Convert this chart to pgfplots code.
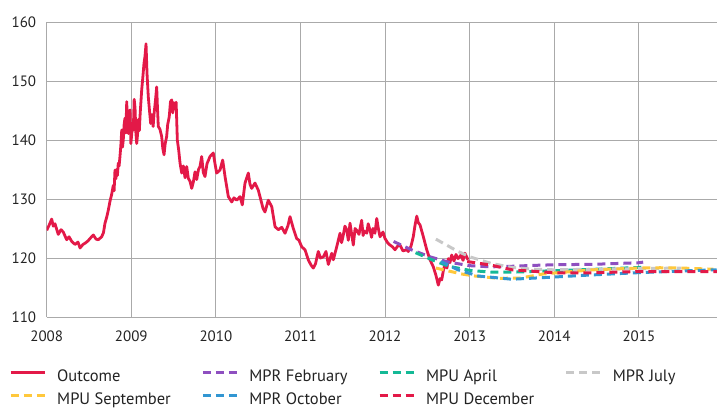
\documentclass[border=0pt]{standalone}
\usepackage{fontspec}
\setmainfont{PT Sans}
\usepackage{pgfplots}
\pgfplotsset{compat=1.18}

\definecolor{outred}{RGB}{227,25,72}
\definecolor{febpurple}{RGB}{142,79,192}
\definecolor{aprteal}{RGB}{20,185,150}
\definecolor{julgray}{RGB}{200,200,200}
\definecolor{sepyellow}{RGB}{255,200,60}
\definecolor{octblue}{RGB}{50,150,210}
\definecolor{gridc}{RGB}{170,170,170}
\definecolor{textc}{RGB}{35,35,35}

\pgfplotsset{
  fcst/.style={line width=3pt, dash pattern=on 8pt off 5pt},
}

\begin{document}
\begin{tikzpicture}
\begin{axis}[
  scale only axis, width=670.3pt, height=295pt,
  xmin=2008, xmax=2015.923, ymin=110, ymax=160,
  xtick={2008,2009,...,2015}, ytick={110,120,...,160},
  /pgf/number format/1000 sep={},
  /pgf/number format/assume math mode=true,
  grid=major, major grid style={draw=gridc, line width=1pt},
  axis line style={draw=none},
  major tick length=0pt,
  tick label style={font=\fontsize{15}{18}\selectfont, text=textc},
  yticklabel style={xshift=-7pt},
  xticklabel style={yshift=-10pt},
  legend columns=4,
  legend image code/.code={\draw[#1] (0pt,5pt) -- (34pt,5pt);},
  legend style={at={(0,0)}, anchor=north west, xshift=-37.7pt, yshift=-52.5pt,
    draw=none, fill=none, inner sep=0pt, row sep=8pt,
    font=\fontsize{16.5}{19}\selectfont, text=textc,
    nodes={inner sep=0pt, text height=11.5pt, text depth=3.5pt},
    /tikz/every odd column/.append style={column sep=11pt},
    /tikz/every even column/.append style={column sep=30.5pt}},
  legend cell align=left,
]
% Outcome
\addplot[outred, line width=2.8pt, line join=round] coordinates {
(2008.000,124.7) (2008.027,125.5) (2008.059,126.6) (2008.078,125.4) (2008.098,125.8)
(2008.137,124.0) (2008.169,124.8) (2008.196,124.4) (2008.236,123.1) (2008.264,123.6)
(2008.296,122.8) (2008.335,122.3) (2008.370,122.7) (2008.394,121.7) (2008.429,122.3)
(2008.453,122.5) (2008.488,122.9) (2008.512,123.3) (2008.551,123.9) (2008.583,123.2)
(2008.610,123.1) (2008.650,123.6) (2008.671,124.3) (2008.689,125.9) (2008.709,126.9)
(2008.728,128.1) (2008.748,129.6) (2008.768,130.8) (2008.787,132.3) (2008.797,131.4)
(2008.807,134.9) (2008.817,133.4) (2008.827,135.0) (2008.836,134.0) (2008.846,136.1)
(2008.856,135.6) (2008.866,137.2) (2008.876,139.0) (2008.887,141.7) (2008.896,138.8)
(2008.905,140.0) (2008.915,142.6) (2008.925,143.7) (2008.935,141.2) (2008.946,146.5)
(2008.955,142.0) (2008.965,141.1) (2008.975,143.6) (2008.985,145.1) (2008.995,139.4)
(2009.005,141.0) (2009.015,142.9) (2009.024,141.7) (2009.034,146.9) (2009.044,145.5)
(2009.054,141.3) (2009.064,139.4) (2009.074,141.0) (2009.085,143.5) (2009.095,141.6)
(2009.105,144.5) (2009.123,148.5) (2009.135,150.4) (2009.150,153.0) (2009.162,154.2)
(2009.174,156.3) (2009.186,151.2) (2009.201,147.3) (2009.215,145.0) (2009.229,142.8)
(2009.243,144.3) (2009.258,142.3) (2009.270,144.6) (2009.285,146.6) (2009.300,149.0)
(2009.310,145.2) (2009.319,142.3) (2009.339,141.8) (2009.359,140.6) (2009.372,138.6)
(2009.387,137.5) (2009.400,139.3) (2009.418,140.6) (2009.430,142.6) (2009.449,144.0)
(2009.463,146.5) (2009.478,146.8) (2009.490,144.6) (2009.505,146.3) (2009.517,145.9)
(2009.530,146.4) (2009.544,140.0) (2009.560,138.3) (2009.576,136.1) (2009.596,134.4)
(2009.615,135.6) (2009.635,133.6) (2009.655,135.5) (2009.674,133.5) (2009.694,133.0)
(2009.714,131.8) (2009.735,133.0) (2009.753,134.6) (2009.773,133.3) (2009.794,135.0)
(2009.812,135.5) (2009.832,137.2) (2009.851,134.5) (2009.871,133.8) (2009.895,136.0)
(2009.910,136.5) (2009.930,137.2) (2009.969,137.8) (2009.989,136.0) (2010.009,134.4)
(2010.048,134.9) (2010.080,136.6) (2010.108,133.8) (2010.147,130.4) (2010.187,129.5)
(2010.214,130.2) (2010.246,129.8) (2010.285,130.4) (2010.312,129.0) (2010.344,132.7)
(2010.383,134.4) (2010.403,132.5) (2010.423,131.8) (2010.462,132.7) (2010.501,131.5)
(2010.541,129.3) (2010.557,128.4) (2010.580,127.8) (2010.619,129.8) (2010.660,128.7)
(2010.699,125.3) (2010.738,124.8) (2010.778,125.2) (2010.817,124.2) (2010.852,125.5)
(2010.876,127.0) (2010.915,125.0) (2010.955,123.3) (2010.982,123.0) (2011.014,121.9)
(2011.053,121.4) (2011.092,119.7) (2011.124,118.8) (2011.151,118.3) (2011.177,119.0)
(2011.210,121.1) (2011.236,120.0) (2011.270,120.2) (2011.301,121.1) (2011.329,118.9)
(2011.369,120.8) (2011.388,119.7) (2011.428,121.9) (2011.467,124.2) (2011.485,122.6)
(2011.502,123.6) (2011.525,125.4) (2011.546,124.8) (2011.565,123.0) (2011.585,125.9)
(2011.605,124.0) (2011.624,122.2) (2011.645,125.0) (2011.664,124.7) (2011.691,124.0)
(2011.723,126.4) (2011.740,123.8) (2011.751,124.6) (2011.783,124.2) (2011.800,125.8)
(2011.822,124.7) (2011.840,123.5) (2011.857,125.0) (2011.880,124.2) (2011.901,126.7)
(2011.920,125.0) (2011.940,123.6) (2011.975,124.4) (2011.999,123.3) (2012.034,122.5)
(2012.058,122.2) (2012.087,121.9) (2012.117,121.4) (2012.147,122.0) (2012.176,122.2)
(2012.211,121.2) (2012.255,121.4) (2012.274,121.1) (2012.306,122.0) (2012.333,123.6)
(2012.353,125.5) (2012.374,127.1) (2012.392,126.0) (2012.413,125.6) (2012.452,123.6)
(2012.492,121.4) (2012.531,119.7) (2012.570,118.5) (2012.602,117.0) (2012.629,115.4)
(2012.649,116.5) (2012.669,116.3) (2012.690,118.0) (2012.708,119.0) (2012.731,118.3)
(2012.747,119.9) (2012.766,119.2) (2012.787,120.5) (2012.814,119.5) (2012.838,120.6)
(2012.862,119.9) (2012.897,120.5) (2012.921,119.6) (2012.944,120.8) (2012.980,119.7)
};
\addlegendentry{Outcome}
% MPR February
\addplot[febpurple, fcst] coordinates {
(2012.10,122.8) (2012.31,121.4) (2012.53,120.2) (2012.75,119.3) (2013.00,118.7)
(2013.25,118.5) (2013.50,118.6) (2013.75,118.75) (2014.00,118.85) (2014.50,118.95)
(2015.00,119.2) (2015.05,119.3)
};
\addlegendentry{MPR February}
% MPU April
\addplot[aprteal, fcst] coordinates {
(2012.36,120.9) (2012.57,119.6) (2012.75,118.6) (2013.00,117.9) (2013.25,117.6)
(2013.50,117.6) (2014.00,117.85) (2014.50,118.1) (2015.00,118.4) (2015.05,118.45)
};
\addlegendentry{MPU April}
% MPR July
\addplot[julgray, fcst] coordinates {
(2012.60,123.2) (2012.85,121.2) (2013.00,120.2) (2013.25,119.1) (2013.50,118.4)
(2013.75,118.1) (2014.00,118.0) (2014.50,118.1) (2015.00,118.2) (2015.50,118.3)
};
\addlegendentry{MPR July}
% MPU September
\addplot[sepyellow, fcst] coordinates {
(2012.60,118.3) (2012.90,117.3) (2013.06,116.95) (2013.34,116.55) (2013.60,116.6)
(2013.87,117.3) (2014.46,118.0) (2015.00,118.3) (2015.25,118.35) (2015.50,118.3)
(2015.88,118.1)
};
\addlegendentry{MPU September}
% MPR October
\addplot[octblue, fcst] coordinates {
(2012.66,119.4) (2012.86,118.0) (2013.10,116.95) (2013.50,116.4) (2013.90,116.7)
(2014.40,117.1) (2014.97,117.5) (2015.50,117.8) (2015.92,118.0)
};
\addlegendentry{MPR October}
% MPU December
\addplot[outred, fcst] coordinates {
(2012.97,119.4) (2013.25,118.8) (2013.50,118.0) (2014.00,117.5) (2014.46,117.5)
(2014.97,117.7) (2015.50,117.7) (2015.92,117.7)
};
\addlegendentry{MPU December}
\end{axis}
\pgfresetboundingbox
\path (-46.7pt,-93pt) rectangle (670.3pt,317pt);
\end{tikzpicture}
\end{document}
